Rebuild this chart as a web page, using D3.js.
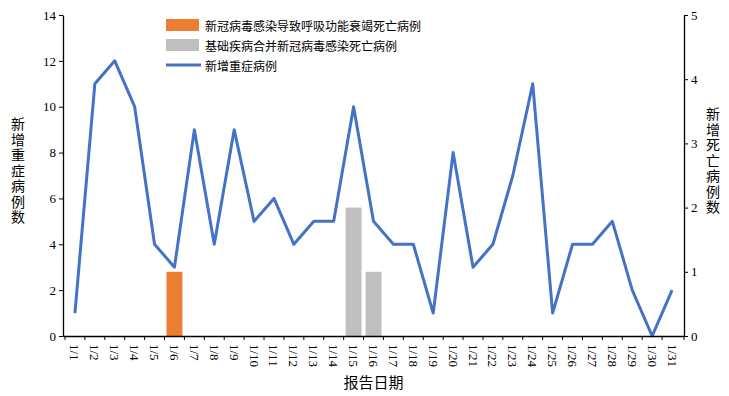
<!DOCTYPE html>
<html>
<head>
<meta charset="utf-8">
<script src="https://cdn.jsdelivr.net/npm/d3@7"></script>
<style>
  body { margin: 0; background: #fff; }
  svg { display: block; }
</style>
</head>
<body>
<div id="chart"></div>
<script>
const DAYS = d3.range(1, 32).map(d => "1/" + d);
const SEVERE = [1, 11, 12, 10, 4, 3, 9, 4, 9, 5, 6, 4, 5, 5, 10, 5, 4, 4, 1, 8, 3, 4, 7, 11, 1, 4, 4, 5, 2, 0, 2];
const DEATH_RESP = { "1/6": 1 };
const DEATH_COMORB = { "1/15": 2, "1/16": 1 };
const LEFT_TICKS = [0, 2, 4, 6, 8, 10, 12, 14];
const RIGHT_TICKS = [0, 1, 2, 3, 4, 5];
const LEGEND = [
  { label: "新冠病毒感染导致呼吸功能衰竭死亡病例", color: "#ED7D31", type: "bar" },
  { label: "基础疾病合并新冠病毒感染死亡病例", color: "#BFBFBF", type: "bar" },
  { label: "新增重症病例", color: "#4472C4", type: "line" }
];

const W = 729, H = 396;
const M = { top: 15, right: 45, bottom: 60, left: 63 };
const innerW = W - M.left - M.right;
const innerH = H - M.top - M.bottom;

const svg = d3.select("#chart").append("svg").attr("width", W).attr("height", H);
const g = svg.append("g").attr("transform", `translate(${M.left},${M.top})`);

const x = d3.scaleBand().domain(DAYS).range([0, innerW]).padding(0.2);
const yL = d3.scaleLinear().domain([0, 14]).range([innerH, 0]);
const yR = d3.scaleLinear().domain([0, 5]).range([innerH, 0]);

const serif = "'Liberation Serif', 'DejaVu Serif', serif";
const cjk = "'Noto Sans CJK SC', sans-serif";

// bars (right axis)
const barData = [];
Object.entries(DEATH_RESP).forEach(([k, v]) => barData.push({ day: k, v, c: LEGEND[0].color }));
Object.entries(DEATH_COMORB).forEach(([k, v]) => barData.push({ day: k, v, c: LEGEND[1].color }));
g.selectAll("rect.bar").data(barData).join("rect")
  .attr("x", d => x(d.day))
  .attr("width", x.bandwidth())
  .attr("y", d => yR(d.v))
  .attr("height", d => innerH - yR(d.v))
  .attr("fill", d => d.c);

// line
const line = d3.line()
  .x((d, i) => x(DAYS[i]) + x.bandwidth() / 2)
  .y(d => yL(d));
g.append("path")
  .datum(SEVERE)
  .attr("d", line)
  .attr("fill", "none")
  .attr("stroke", LEGEND[2].color)
  .attr("stroke-width", 3)
  .attr("stroke-linejoin", "round");

// axes
const axL = g.append("g").call(d3.axisLeft(yL).tickValues(LEFT_TICKS).tickSize(4).tickSizeOuter(0));
const axR = g.append("g").attr("transform", `translate(${innerW},0)`)
  .call(d3.axisRight(yR).tickValues(RIGHT_TICKS).tickFormat(d3.format("d")).tickSize(4).tickSizeOuter(0));
const axB = g.append("g").attr("transform", `translate(0,${innerH})`)
  .call(d3.axisBottom(x).tickSize(4).tickSizeOuter(0));
// ticks on band boundaries
axB.selectAll(".tick line").attr("transform", `translate(${-x.step() / 2},0)`);
axB.append("line").attr("x1", innerW).attr("x2", innerW).attr("y1", 0).attr("y2", 4).attr("stroke", "#000");

[axL, axR, axB].forEach(a => {
  a.select(".domain").attr("stroke", "#000").attr("stroke-width", 1.3);
  a.selectAll(".tick line").attr("stroke", "#000");
  a.selectAll("text").attr("font-family", serif).attr("font-size", 13).attr("fill", "#000");
});
axB.selectAll(".tick text")
  .attr("transform", "rotate(90)")
  .attr("text-anchor", "start")
  .attr("dy", null)
  .attr("dominant-baseline", "central")
  .attr("x", 8).attr("y", 0)
  .attr("font-size", 13);

// axis titles
svg.append("text").attr("x", M.left + innerW / 2).attr("y", 388)
  .attr("text-anchor", "middle").attr("font-family", cjk).attr("font-size", 15).text("报告日期");

function vertTitle(str, cx, top) {
  svg.append("text")
    .attr("x", cx).attr("y", top)
    .attr("font-family", cjk).attr("font-size", 14)
    .style("writing-mode", "vertical-rl")
    .style("text-orientation", "upright")
    .style("letter-spacing", "1.5px")
    .text(str);
}
vertTitle("新增重症病例数", 18, 117);
vertTitle("新增死亡病例数", 713, 107);

// legend
const lg = svg.append("g").attr("transform", "translate(166,25)");
LEGEND.forEach((d, i) => {
  const row = lg.append("g").attr("transform", `translate(0,${i * 20})`);
  if (d.type === "bar") {
    row.append("rect").attr("x", 0).attr("y", -6).attr("width", 33).attr("height", 12).attr("fill", d.color);
  } else {
    row.append("line").attr("x1", 0).attr("x2", 35).attr("y1", 0).attr("y2", 0)
      .attr("stroke", d.color).attr("stroke-width", 3);
  }
  row.append("text").attr("x", 39).attr("y", 0).attr("dominant-baseline", "central")
    .attr("font-family", cjk).attr("font-size", 12).attr("fill", "#000").text(d.label);
});
</script>
</body>
</html>
